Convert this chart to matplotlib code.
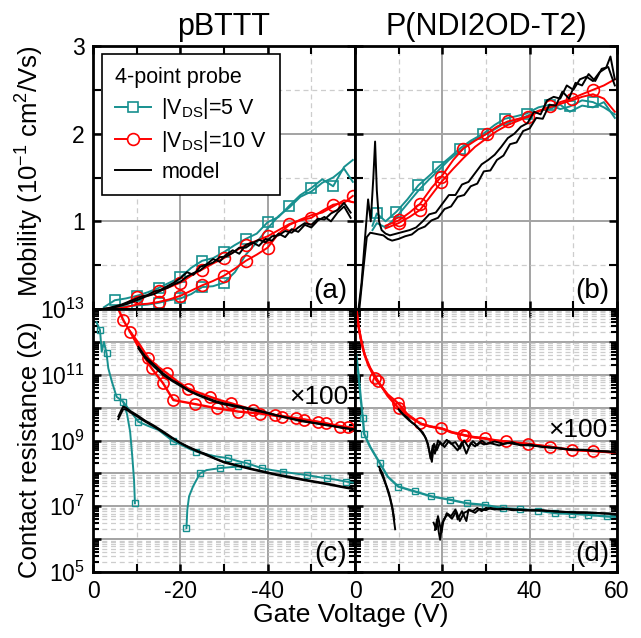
import numpy as np
import matplotlib
matplotlib.use('Agg')
import matplotlib.pyplot as plt
from matplotlib.lines import Line2D
from matplotlib.ticker import MultipleLocator, FuncFormatter, LogLocator, NullFormatter

plt.rcParams['font.family'] = ['Liberation Sans', 'DejaVu Sans']
plt.rcParams['mathtext.fontset'] = 'custom'
plt.rcParams['mathtext.rm'] = 'Liberation Sans'
plt.rcParams['mathtext.it'] = 'Liberation Sans:italic'
plt.rcParams['mathtext.bf'] = 'Liberation Sans:bold'
plt.rcParams['axes.unicode_minus'] = False

# ---------------- data ----------------
titles = ['pBTTT', 'P(NDI2OD-T2)']
legend_title = '4-point probe'
legend_labels = ['|V$_{\\rm DS}$|=5 V', '|V$_{\\rm DS}$|=10 V', 'model']
panel_tags = ['(a)', '(b)', '(c)', '(d)']

# (a) pBTTT mobility (|Vg| in V, mobility in 1e-1 cm2/Vs)
vg_a_model = [2, 3.5, 5, 6.5, 8, 9.5, 11, 12.5, 14, 15.5, 17, 18.5, 20, 21.5, 23, 24.5, 26, 27.5, 29, 30.5,
              32, 33.5, 35, 36.5, 38, 39.5, 41, 42.5, 44, 45.5, 47, 48.5, 50, 51.5, 53, 54.5, 56, 57.5, 59]
mob_a_model1 = [0.00, 0.01, 0.03, 0.05, 0.08, 0.11, 0.14, 0.16, 0.20, 0.22, 0.26, 0.30, 0.35, 0.42, 0.39, 0.48,
                0.51, 0.57, 0.54, 0.62, 0.67, 0.63, 0.73, 0.76, 0.72, 0.80, 0.78, 0.86, 0.82, 0.91, 0.88, 0.96,
                0.93, 1.01, 1.05, 1.00, 1.10, 1.17, 1.04]
mob_a_model2 = [0.00, 0.00, 0.02, 0.04, 0.06, 0.09, 0.12, 0.15, 0.17, 0.21, 0.24, 0.28, 0.31, 0.37, 0.41, 0.44,
                0.50, 0.53, 0.59, 0.60, 0.64, 0.70, 0.70, 0.75, 0.79, 0.76, 0.83, 0.84, 0.89, 0.87, 0.93, 0.98,
                0.96, 1.03, 1.02, 1.09, 1.13, 1.21, 1.10]
vg_a = [2.5, 5, 7.5, 10, 12.5, 15, 17.5, 20, 22.5, 25, 27.5, 30, 32.5, 35, 37.5, 40, 42.5, 45, 47.5, 50,
        52.5, 55, 57.5, 59.5]
mob_a_5V_up = [0.02, 0.10, 0.12, 0.15, 0.19, 0.24, 0.30, 0.36, 0.47, 0.55, 0.58, 0.65, 0.73, 0.80, 0.86, 0.99,
               1.05, 1.18, 1.30, 1.38, 1.48, 1.40, 1.62, 1.70]
mob_a_5V_dn = [0.00, 0.02, 0.03, 0.04, 0.05, 0.07, 0.10, 0.12, 0.17, 0.25, 0.26, 0.30, 0.42, 0.62, 0.76, 0.92,
               1.06, 1.16, 1.28, 1.34, 1.44, 1.50, 1.60, 1.45]
mob_a_10V_up = [0.00, 0.02, 0.06, 0.14, 0.15, 0.20, 0.25, 0.30, 0.38, 0.45, 0.52, 0.58, 0.66, 0.73, 0.78, 0.83,
                0.90, 0.97, 1.01, 1.04, 1.12, 1.19, 1.21, 1.29]
mob_a_10V_dn = [0.00, 0.00, 0.02, 0.05, 0.06, 0.08, 0.11, 0.15, 0.21, 0.27, 0.32, 0.38, 0.46, 0.55, 0.62, 0.70,
                0.86, 0.96, 1.02, 1.07, 1.10, 1.17, 1.24, 1.22]

# (b) P(NDI2OD-T2) mobility
vg_b_model1 = [0.8, 1.5, 2.2, 3.0, 3.6, 4.2, 4.6, 5.0, 5.5, 6.1, 7.0, 8.0, 9.5, 11, 12.5, 14, 15.5, 17, 18.5, 20,
               21.5, 23, 24.5, 26, 27.5, 29, 30.5, 32, 33.5, 35, 36.5, 38, 39.5, 41, 42.5, 44, 45.5, 47, 48.5,
               50, 51.5, 53, 54.5, 56, 57.5, 58.5, 59.5]
mob_b_model1 = [0.0, 0.3, 0.75, 1.25, 1.0, 1.5, 1.91, 1.35, 1.0, 0.9, 0.86, 0.84, 0.86, 0.88, 0.90, 0.93, 1.0,
                1.08, 1.10, 1.20, 1.30, 1.30, 1.42, 1.45, 1.55, 1.65, 1.70, 1.76, 1.85, 1.95, 2.0, 2.08, 2.12,
                2.25, 2.22, 2.38, 2.42, 2.40, 2.55, 2.50, 2.62, 2.65, 2.60, 2.70, 2.75, 2.88, 2.62]
vg_b_model2 = [1.0, 1.8, 2.7, 3.5, 4.5, 5.5, 6.5, 7.5, 8.5, 10, 11.5, 13, 14.5, 16, 17.5, 19, 20.5, 22, 23.5, 25,
               26.5, 28, 29.5, 31, 32.5, 34, 35.5, 37, 38.5, 40, 41.5, 43, 44.5, 46, 47.5, 49, 50.5, 52, 53.5,
               55, 56.5, 58, 59.5]
mob_b_model2 = [0.0, 0.4, 0.82, 0.87, 0.86, 0.85, 0.84, 0.80, 0.78, 0.80, 0.83, 0.85, 0.91, 0.94, 1.01, 1.04,
                1.14, 1.17, 1.28, 1.30, 1.40, 1.43, 1.57, 1.58, 1.70, 1.75, 1.88, 1.90, 2.03, 2.06, 2.18, 2.17,
                2.33, 2.32, 2.48, 2.40, 2.58, 2.55, 2.68, 2.60, 2.74, 2.76, 2.55]
vg_b_5V = [4, 5, 7, 9.5, 12, 14.5, 17, 19.1, 21.5, 24, 26.5, 29.4, 32, 34.3, 37, 39.3, 42, 44.6, 47, 49.2,
           52, 54.5, 57, 59.5]
mob_b_5V_1 = [0.95, 1.09, 1.00, 1.11, 1.25, 1.41, 1.52, 1.62, 1.72, 1.83, 1.92, 2.00, 2.10, 2.17, 2.20, 2.23,
              2.30, 2.33, 2.28, 2.31, 2.38, 2.36, 2.30, 2.22]
mob_b_5V_2 = [0.90, 0.98, 0.93, 1.05, 1.20, 1.35, 1.48, 1.58, 1.70, 1.80, 1.90, 1.98, 2.05, 2.12, 2.16, 2.20,
              2.26, 2.28, 2.33, 2.25, 2.32, 2.30, 2.36, 2.18]
vg_b_10V = [7, 10, 12.5, 14.9, 17.5, 19.8, 22.5, 24.8, 27.5, 30.2, 32.5, 35, 37.5, 39.7, 42, 44.6, 47, 49.6,
            52, 54.5, 57, 59.5]
mob_b_10V_1 = [0.95, 1.01, 1.10, 1.20, 1.38, 1.51, 1.70, 1.83, 1.92, 2.00, 2.08, 2.14, 2.17, 2.19, 2.25, 2.31,
               2.36, 2.40, 2.45, 2.50, 2.55, 2.62]
mob_b_10V_2 = [0.92, 0.98, 1.05, 1.13, 1.30, 1.45, 1.60, 1.72, 1.85, 1.95, 2.03, 2.10, 2.15, 2.20, 2.26, 2.30,
               2.34, 2.38, 2.42, 2.45, 2.40, 2.25]

# (c) pBTTT contact resistance (log10 of Ohm); 10 V curves multiplied by 100
vg_c_10V_1 = [5.8, 6.9, 8.5, 10.5, 12.7, 14.8, 16.9, 19.3, 21.8, 24.3, 26.8, 29.2, 31.7, 34.2, 36.7, 39.2, 41.6,
              44.1, 46.6, 49.1, 51.6, 54.0, 56.5, 59.5]
logR_c_10V_1 = [13.0, 12.67, 12.31, 11.95, 11.5, 11.25, 11.05, 10.8, 10.58, 10.45, 10.33, 10.22, 10.13, 10.03,
                9.93, 9.86, 9.78, 9.73, 9.68, 9.62, 9.57, 9.5, 9.42, 9.38]
vg_c_10V_2 = [8.5, 11.0, 13.4, 16.0, 18.4, 23.3, 28.3, 33.3, 38.3, 43.3, 48.3, 53.3, 58.3, 59.5]
logR_c_10V_2 = [12.31, 11.7, 11.2, 10.75, 10.23, 10.11, 9.98, 9.88, 9.82, 9.72, 9.63, 9.52, 9.4, 9.38]
vg_c_model_hi = [10.4, 12, 14, 16, 18, 20, 22, 24, 26, 28, 30, 33, 36, 39, 42, 45, 48, 51, 54, 57, 59.5]
logR_c_model_hi1 = [11.85, 11.55, 11.3, 11.05, 10.85, 10.7, 10.52, 10.4, 10.3, 10.2, 10.13, 10.05, 9.97, 9.88,
                    9.77, 9.68, 9.6, 9.53, 9.47, 9.38, 9.35]
logR_c_model_hi2 = [11.8, 11.5, 11.24, 11.0, 10.82, 10.66, 10.5, 10.38, 10.27, 10.17, 10.1, 10.02, 9.94, 9.86,
                    9.76, 9.67, 9.58, 9.52, 9.45, 9.4, 9.33]
vg_c_model_lo = [5.8, 6.4, 6.9, 7.5, 8.5, 10, 12, 14, 16, 18, 20, 22, 24, 26, 28, 30, 33, 36, 39, 42, 45, 48,
                 51, 54, 57, 59.5]
logR_c_model_lo1 = [9.73, 9.9, 10.03, 10.0, 9.9, 9.78, 9.6, 9.45, 9.28, 9.1, 8.93, 8.8, 8.68, 8.58, 8.45, 8.35,
                    8.25, 8.15, 8.06, 7.97, 7.9, 7.82, 7.75, 7.68, 7.6, 7.55]
logR_c_model_lo2 = [9.65, 9.82, 9.95, 9.95, 9.86, 9.74, 9.57, 9.42, 9.25, 9.08, 8.92, 8.78, 8.66, 8.55, 8.44,
                    8.33, 8.23, 8.13, 8.04, 7.95, 7.87, 7.8, 7.73, 7.66, 7.58, 7.52]
vg_c_5V_1 = [0.8, 1.6, 2.0, 2.5, 3.1, 3.5, 4.3, 5.4, 6.9, 7.8, 8.5, 9.0, 9.4, 9.6]
logR_c_5V_1 = [12.6, 12.36, 11.7, 12.0, 11.65, 11.2, 10.8, 10.33, 10.18, 9.8, 9.27, 8.5, 7.8, 7.09]
vg_c_5V_2 = [6.9, 8.5, 10.4, 12.5, 15, 18.4, 20, 22, 23.7, 26, 28, 31, 33, 35.2, 38.6, 41, 43.5, 46, 48.9, 51,
             53.5, 56, 58, 59.5]
logR_c_5V_2 = [10.18, 9.9, 9.57, 9.45, 9.32, 8.97, 8.88, 8.75, 8.66, 8.58, 8.52, 8.46, 8.38, 8.31, 8.16, 8.1,
               8.05, 8.0, 7.95, 7.9, 7.85, 7.8, 7.75, 7.72]
vg_c_5V_3 = [21.4, 21.6, 22.0, 22.9, 24.5, 26, 29.1, 33.3, 36]
logR_c_5V_3 = [6.33, 6.9, 7.3, 7.6, 8.0, 8.1, 8.16, 8.21, 8.2]

# (d) P(NDI2OD-T2) contact resistance (log10 of Ohm)
vg_d_10V_1 = [0.3, 0.8, 1.3, 1.9, 3.0, 4.6, 7.5, 9.9, 12, 14.9, 17, 19.8, 22, 24.8, 27, 29.7, 32, 34.6, 37,
              39.7, 42, 44.6, 47, 49.6, 52, 54.5, 57, 59.5]
logR_d_10V_1 = [13.0, 12.5, 12.1, 11.75, 11.3, 10.89, 10.4, 10.13, 9.8, 9.52, 9.43, 9.37, 9.25, 9.17, 9.1, 9.07,
                9.0, 8.97, 8.93, 8.9, 8.85, 8.81, 8.76, 8.71, 8.7, 8.69, 8.66, 8.64]
vg_d_10V_2 = [0.3, 0.9, 1.5, 2.2, 3.5, 5.2, 7.5, 10.0, 12.5, 15.2, 17.5, 20.2, 22.5, 25.3, 27.5, 30.2, 32.5,
              35.2, 37.5, 40.2, 42.5, 45.2, 47.5, 50.2, 52.5, 55.3, 57.5, 59.5]
logR_d_10V_2 = [13.0, 12.4, 12.0, 11.6, 11.2, 10.82, 10.35, 9.98, 9.72, 9.5, 9.42, 9.35, 9.24, 9.15, 9.1, 9.05,
                9.0, 8.96, 8.92, 8.88, 8.84, 8.8, 8.75, 8.72, 8.69, 8.67, 8.65, 8.63]
vg_d_model_hi1 = [10, 11, 12, 13, 14, 15, 16, 16.7, 17.3, 17.8, 18.3, 19, 20, 21, 22, 23, 24, 25, 26, 27, 28,
                  29, 30, 32, 34, 36, 38, 40, 43, 46, 49, 52, 55, 58, 59.5]
logR_d_model_hi1 = [9.95, 9.8, 9.7, 9.55, 9.45, 9.3, 9.12, 8.9, 8.45, 8.85, 8.6, 9.0, 8.85, 9.02, 8.9, 8.95,
                    8.75, 9.0, 8.8, 8.98, 8.85, 9.0, 8.9, 8.97, 8.9, 8.95, 8.85, 8.88, 8.8, 8.78, 8.72, 8.72,
                    8.68, 8.67, 8.63]
vg_d_model_hi2 = [10.2, 11.5, 12.5, 13.5, 14.5, 15.5, 16.3, 17, 17.6, 18.1, 18.7, 19.5, 20.5, 21.5, 22.5, 23.5,
                  24.5, 25.5, 26.5, 27.5, 28.5, 29.5, 31, 33, 35, 37, 39, 41.5, 44.5, 47.5, 50.5, 53.5, 56.5,
                  59.5]
logR_d_model_hi2 = [9.9, 9.72, 9.6, 9.5, 9.38, 9.25, 9.05, 8.7, 8.35, 8.9, 8.7, 8.95, 8.8, 8.98, 8.85, 8.7,
                    8.95, 8.6, 8.92, 8.82, 8.95, 8.88, 8.92, 8.85, 8.93, 8.88, 8.86, 8.83, 8.79, 8.75, 8.72,
                    8.7, 8.67, 8.65]
vg_d_5V = [0.3, 0.8, 1.3, 1.8, 2.1, 3.5, 5.7, 7.5, 9.9, 13.7, 17.5, 21.7, 25.6, 29.7, 33.9, 37.8, 41.9, 45.8,
           49.6, 53.4, 57.6, 59.5]
logR_d_5V = [11.6, 11.0, 10.3, 9.67, 9.2, 8.8, 8.31, 7.9, 7.6, 7.45, 7.3, 7.2, 7.09, 7.04, 6.94, 6.91, 6.87,
             6.79, 6.77, 6.74, 6.69, 6.68]
vg_d_model_lo1a = [5.7, 6.5, 7.2, 8.0, 8.6, 9.2]
logR_d_model_lo1a = [8.1, 7.85, 7.6, 7.25, 6.9, 6.3]
vg_d_model_lo1b = [5.5, 6.3, 7.0, 7.8, 8.5, 9.0]
logR_d_model_lo1b = [8.2, 8.0, 7.7, 7.4, 7.0, 6.6]
vg_d_model_lo2a = [18.3, 18.8, 19.2, 19.5, 20, 20.5, 21, 22, 23, 23.5, 24.5, 25.5, 26, 27, 28, 29, 30, 32, 34,
                   36, 38, 40, 43, 46, 49, 52, 55, 58, 59.5]
logR_d_model_lo2a = [6.28, 6.6, 6.2, 5.98, 6.5, 6.6, 6.79, 6.7, 6.9, 6.6, 6.85, 6.55, 6.9, 6.85, 6.95, 6.85,
                     6.95, 6.9, 6.93, 6.88, 6.9, 6.88, 6.88, 6.84, 6.82, 6.82, 6.8, 6.78, 6.77]
vg_d_model_lo2b = [18.0, 18.6, 19.0, 19.8, 20.3, 21.2, 22.2, 23.2, 24, 25, 26.2, 27.5, 28.5, 30, 31, 33, 35,
                   37, 39, 42, 45, 48, 51, 54, 57, 59.5]
logR_d_model_lo2b = [6.5, 6.3, 6.7, 6.2, 6.6, 6.75, 6.62, 6.85, 6.55, 6.8, 6.88, 6.8, 6.92, 6.88, 6.95, 6.9,
                     6.92, 6.9, 6.87, 6.87, 6.85, 6.83, 6.8, 6.8, 6.78, 6.76]

# ---------------- style ----------------
TEAL = '#17908f'
RED = '#ff0000'
BLACK = '#000000'

fig = plt.figure(figsize=(6.41, 6.38), dpi=100)
L, W = 93 / 641, 262 / 641
L2 = 355 / 641
H = 263 / 638
B_top = (638 - 309) / 638
B_bot = (638 - 572) / 638
ax_a = fig.add_axes([L, B_top, W, H])
ax_b = fig.add_axes([L2, B_top, W, H])
ax_c = fig.add_axes([L, B_bot, W, H])
ax_d = fig.add_axes([L2, B_bot, W, H])


def neg(v):
    return -np.asarray(v)


def pw(v):
    return 10.0 ** np.asarray(v)


def style(ax):
    for s in ax.spines.values():
        s.set_linewidth(2.0)
    ax.tick_params(which='major', direction='in', top=True, right=True, width=1.8, length=6,
                   labelsize=16.5, pad=6)
    ax.tick_params(which='minor', direction='in', top=True, right=True, width=1.5, length=4)
    ax.grid(which='major', color='#a3a3a3', lw=1.4, ls='-')
    ax.grid(which='minor', color='#cdcdcd', lw=0.9, ls=(0, (4, 3)))
    ax.set_axisbelow(True)


for ax in (ax_a, ax_c):
    ax.set_xlim(0, -60)
for ax in (ax_b, ax_d):
    ax.set_xlim(0, 60)
for ax in (ax_a, ax_b, ax_c, ax_d):
    ax.xaxis.set_major_locator(MultipleLocator(20))
    ax.xaxis.set_minor_locator(MultipleLocator(10))
    style(ax)
    ax.tick_params(axis='x', which='minor', length=6)

for ax in (ax_a, ax_b):
    ax.set_ylim(0, 3)
    ax.yaxis.set_major_locator(MultipleLocator(1))
    ax.yaxis.set_minor_locator(MultipleLocator(0.5))
    ax.tick_params(axis='y', which='minor', length=6)
    ax.tick_params(labelbottom=False)

for ax in (ax_c, ax_d):
    ax.set_yscale('log')
    ax.set_ylim(1e5, 1e13)
    ax.yaxis.set_major_locator(LogLocator(base=10, numticks=30))
    ax.yaxis.set_minor_locator(LogLocator(base=10, subs=np.arange(2, 10), numticks=30))
    ax.yaxis.set_minor_formatter(NullFormatter())

ax_a.yaxis.set_major_formatter(FuncFormatter(lambda v, p: '' if v < 0.5 else '%d' % round(v)))
ax_c.yaxis.set_major_formatter(FuncFormatter(
    lambda v, p: ('$10^{%d}$' % round(np.log10(v))) if round(np.log10(v)) % 2 == 1 else ''))
ax_b.tick_params(labelleft=False)
ax_d.tick_params(labelleft=False)
ax_c.xaxis.set_major_formatter(FuncFormatter(lambda v, p: '' if v < -50 else '%d' % round(v)))
ax_d.xaxis.set_major_formatter(FuncFormatter(lambda v, p: '%d' % round(v)))

lw_d = 1.4
ms_big_sq = 7.5
ms_big_ci = 8.5
ms_sm_sq = 4.8
ms_sm_ci = 8.0

# ---- (a)
ax_a.plot(neg(vg_a), mob_a_5V_dn, color=TEAL, lw=lw_d, marker='s', ms=ms_big_sq, mfc='none', mew=1.2,
          markevery=[3, 5, 7, 9, 11])
ax_a.plot(neg(vg_a), mob_a_5V_up, color=TEAL, lw=lw_d, marker='s', ms=ms_big_sq, mfc='none', mew=1.2,
          markevery=list(range(1, 22, 2)))
ax_a.plot(neg(vg_a), mob_a_10V_dn, color=RED, lw=lw_d, marker='o', ms=ms_big_ci, mfc='none', mew=1.2,
          markevery=list(range(5, 16, 2)))
ax_a.plot(neg(vg_a), mob_a_10V_up, color=RED, lw=lw_d, marker='o', ms=ms_big_ci, mfc='none', mew=1.2,
          markevery=list(range(3, 24, 2)))
ax_a.plot(neg(vg_a_model), mob_a_model1, color=BLACK, lw=lw_d)
ax_a.plot(neg(vg_a_model), mob_a_model2, color=BLACK, lw=lw_d)

# ---- (b)
ax_b.plot(vg_b_5V, mob_b_5V_2, color=TEAL, lw=lw_d)
ax_b.plot(vg_b_5V, mob_b_5V_1, color=TEAL, lw=lw_d, marker='s', ms=ms_big_sq, mfc='none', mew=1.2,
          markevery=list(range(1, 22, 2)))
ax_b.plot(vg_b_10V, mob_b_10V_2, color=RED, lw=lw_d, marker='o', ms=ms_big_ci, mfc='none', mew=1.2,
          markevery=[1, 3, 5])
ax_b.plot(vg_b_10V, mob_b_10V_1, color=RED, lw=lw_d, marker='o', ms=ms_big_ci, mfc='none', mew=1.2,
          markevery=list(range(1, 20, 2)))
ax_b.plot(vg_b_model1, mob_b_model1, color=BLACK, lw=lw_d)
ax_b.plot(vg_b_model2, mob_b_model2, color=BLACK, lw=lw_d)

# ---- (c)
ax_c.plot(neg(vg_c_5V_1), pw(logR_c_5V_1), color=TEAL, lw=lw_d, marker='s', ms=ms_sm_sq, mfc='none',
          mew=1.0, markevery=[1, 4, 7, 8, 13])
ax_c.plot(neg(vg_c_5V_2), pw(logR_c_5V_2), color=TEAL, lw=lw_d, marker='s', ms=ms_sm_sq, mfc='none',
          mew=1.0, markevery=[2, 5, 8, 11, 13, 14, 16, 18, 20, 22])
ax_c.plot(neg(vg_c_5V_3), pw(logR_c_5V_3), color=TEAL, lw=lw_d, marker='s', ms=ms_sm_sq, mfc='none',
          mew=1.0, markevery=[0, 4, 6, 7])
ax_c.plot(neg(vg_c_10V_1), pw(logR_c_10V_1), color=RED, lw=lw_d + 0.3, marker='o', ms=ms_sm_ci, mfc='none',
          mew=1.2, markevery=[1, 2, 4, 6, 8, 10, 12, 14, 16, 18, 20, 22])
ax_c.plot(neg(vg_c_10V_2), pw(logR_c_10V_2), color=RED, lw=lw_d + 0.3, marker='o', ms=ms_sm_ci, mfc='none',
          mew=1.2, markevery=list(range(2, 13)))
for v, y in ((vg_c_model_hi, logR_c_model_hi1), (vg_c_model_hi, logR_c_model_hi2),
             (vg_c_model_lo, logR_c_model_lo1), (vg_c_model_lo, logR_c_model_lo2)):
    ax_c.plot(neg(v), pw(y), color=BLACK, lw=lw_d)

# ---- (d)
ax_d.plot(vg_d_5V, pw(logR_d_5V), color=TEAL, lw=lw_d + 0.3, marker='s', ms=ms_sm_sq, mfc='none', mew=1.0,
          markevery=[3, 4, 6] + list(range(8, 21)))
ax_d.plot(vg_d_10V_2, pw(logR_d_10V_2), color=RED, lw=lw_d + 0.3, marker='o', ms=ms_sm_ci, mfc='none',
          mew=1.2, markevery=[5, 7, 13])
ax_d.plot(vg_d_10V_1, pw(logR_d_10V_1), color=RED, lw=lw_d + 0.3, marker='o', ms=ms_sm_ci, mfc='none',
          mew=1.2, markevery=list(range(5, 26, 2)))
for v, y in ((vg_d_model_hi1, logR_d_model_hi1), (vg_d_model_hi2, logR_d_model_hi2),
             (vg_d_model_lo1a, logR_d_model_lo1a), (vg_d_model_lo1b, logR_d_model_lo1b),
             (vg_d_model_lo2a, logR_d_model_lo2a), (vg_d_model_lo2b, logR_d_model_lo2b)):
    ax_d.plot(v, pw(y), color=BLACK, lw=lw_d)

# ---- texts
ax_a.set_title(titles[0], fontsize=22, pad=8)
ax_b.set_title(titles[1], fontsize=22, pad=8)
for ax, tag in zip((ax_a, ax_b, ax_c, ax_d), panel_tags):
    ax.text(0.97, 0.02, tag, transform=ax.transAxes, ha='right', va='bottom', fontsize=20)
ax_c.text(0.975, 0.665, '×100', transform=ax_c.transAxes, ha='right', va='center', fontsize=19)
ax_d.text(0.965, 0.54, '×100', transform=ax_d.transAxes, ha='right', va='center', fontsize=19)

fig.text(0.047, 0.5 * (B_top + B_top + H) + 0.01, 'Mobility (10$^{-1}$ cm$^2$/Vs)', rotation=90,
         ha='center', va='center', fontsize=18.5)
fig.text(0.047, B_bot + 0.5 * H - 0.015, 'Contact resistance (Ω)', rotation=90, ha='center', va='center',
         fontsize=18.5)
fig.text(351 / 641, 1 - 615 / 638, 'Gate Voltage (V)', ha='center', va='center', fontsize=19)

handles = [
    Line2D([], [], color=TEAL, lw=lw_d, marker='s', ms=ms_big_sq, mfc='white', mew=1.2),
    Line2D([], [], color=RED, lw=lw_d, marker='o', ms=ms_big_ci, mfc='white', mew=1.2),
    Line2D([], [], color=BLACK, lw=lw_d),
]
leg = ax_a.legend(handles, legend_labels, title=legend_title, loc='upper left',
                  bbox_to_anchor=(0.034, 0.968), borderaxespad=0, fontsize=15.5, title_fontsize=15.5,
                  frameon=True, fancybox=False, edgecolor='black', framealpha=1, handlelength=1.7,
                  handletextpad=0.45, labelspacing=0.36, borderpad=0.6, alignment='left')
leg.get_frame().set_linewidth(1.2)

fig.savefig('out.png', dpi=100)
